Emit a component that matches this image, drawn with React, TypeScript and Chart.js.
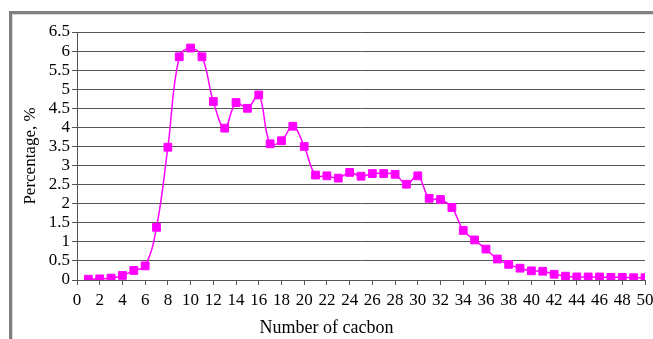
import React, { useEffect, useRef } from "react";
import { Chart, registerables } from "chart.js";

Chart.register(...registerables);

const carbonNumbers = [
  1, 2, 3, 4, 5, 6, 7, 8, 9, 10, 11, 12, 13, 14, 15, 16, 17, 18, 19, 20, 21, 22, 23, 24, 25,
  26, 27, 28, 29, 30, 31, 32, 33, 34, 35, 36, 37, 38, 39, 40, 41, 42, 43, 44, 45, 46, 47, 48, 49, 50,
];
const percentages = [
  0.02, 0.03, 0.05, 0.12, 0.25, 0.37, 1.38, 3.48, 5.85, 6.08, 5.85, 4.68, 3.98, 4.65, 4.5, 4.85,
  3.57, 3.65, 4.03, 3.5, 2.75, 2.73, 2.67, 2.82, 2.72, 2.79, 2.79, 2.77, 2.51, 2.73, 2.14, 2.11,
  1.9, 1.3, 1.05, 0.81, 0.55, 0.41, 0.31, 0.24, 0.23, 0.15, 0.1, 0.08, 0.08, 0.08, 0.07, 0.07,
  0.06, 0.06,
];
const xTitle = "Number of cacbon";
const yTitle = "Percentage, %";

const FONT = "'Liberation Serif', 'Times New Roman', serif";

export default function App() {
  const ref = useRef<HTMLCanvasElement | null>(null);

  useEffect(() => {
    if (!ref.current) return;
    const chart = new Chart(ref.current, {
      type: "line",
      data: {
        datasets: [
          {
            data: carbonNumbers.map((x, i) => ({ x, y: percentages[i] })),
            borderColor: "#FF00FF",
            backgroundColor: "#FF00FF",
            borderWidth: 1.5,
            tension: 0.4,
            pointStyle: "rect",
            pointRadius: 5.5,
            pointBorderWidth: 1,
            pointBackgroundColor: "#FF00FF",
            pointBorderColor: "#FF00FF",
          },
        ],
      },
      options: {
        responsive: false,
        animation: false,
        devicePixelRatio: 1,
        layout: { padding: { top: 32, right: 0, left: 0, bottom: 0 } },
        plugins: {
          legend: { display: false },
          tooltip: { enabled: false },
          title: {
            display: true,
            position: "bottom",
            text: xTitle,
            color: "#000",
            font: { family: FONT, size: 18, weight: "normal" },
            padding: { top: 4, bottom: 0 },
          },
        },
        scales: {
          x: {
            type: "linear",
            min: 0,
            max: 50,
            ticks: {
              stepSize: 2,
              color: "#000",
              font: { family: FONT, size: 17 },
              padding: 5,
              maxRotation: 0,
              autoSkip: false,
              callback: (v: any) => String(v),
            },
            grid: {
              drawOnChartArea: false,
              drawTicks: true,
              tickLength: 5,
              tickColor: "#555",
            },
            border: { display: true, color: "#555", width: 1 },
            afterFit: (scale: any) => {
              scale.height = 33.4;
              scale.paddingRight = 8;
              scale.paddingLeft = 0;
            },
          },
          y: {
            min: 0,
            max: 6.5,
            ticks: {
              stepSize: 0.5,
              autoSkip: false,
              maxTicksLimit: 100,
              color: "#000",
              font: { family: FONT, size: 17 },
              padding: 2,
              callback: (v: any) => String(Math.round(Number(v) * 10) / 10),
            },
            grid: {
              color: "#555",
              borderDash: [2, 2],
              tickLength: 5,
              tickColor: "#555",
            },
            border: { display: true, color: "#555", width: 1, dash: [] },
            title: {
              display: true,
              text: yTitle,
              color: "#000",
              font: { family: FONT, size: 17 },
              padding: { top: 20, bottom: 0 },
            },
            afterFit: (scale: any) => {
              scale.width = 77;
            },
          },
        },
      } as any,
    });
    return () => chart.destroy();
  }, []);

  return (
    <div
      style={{
        position: "absolute",
        left: 0,
        top: 0,
        width: 653,
        height: 339,
        overflow: "hidden",
        background: "#fff",
      }}
    >
      <div
        style={{
          position: "absolute",
          left: 9,
          top: 11,
          width: 800,
          height: 500,
          borderLeft: "3px solid #7f7f7f",
          borderTop: "3px solid #7f7f7f",
          boxShadow: "inset 1px 1px 0 #d9d9d9",
        }}
      />
      <canvas
        ref={ref}
        width={653}
        height={339}
        style={{ position: "absolute", left: 0, top: 0, width: 653, height: 339 }}
      />
    </div>
  );
}
